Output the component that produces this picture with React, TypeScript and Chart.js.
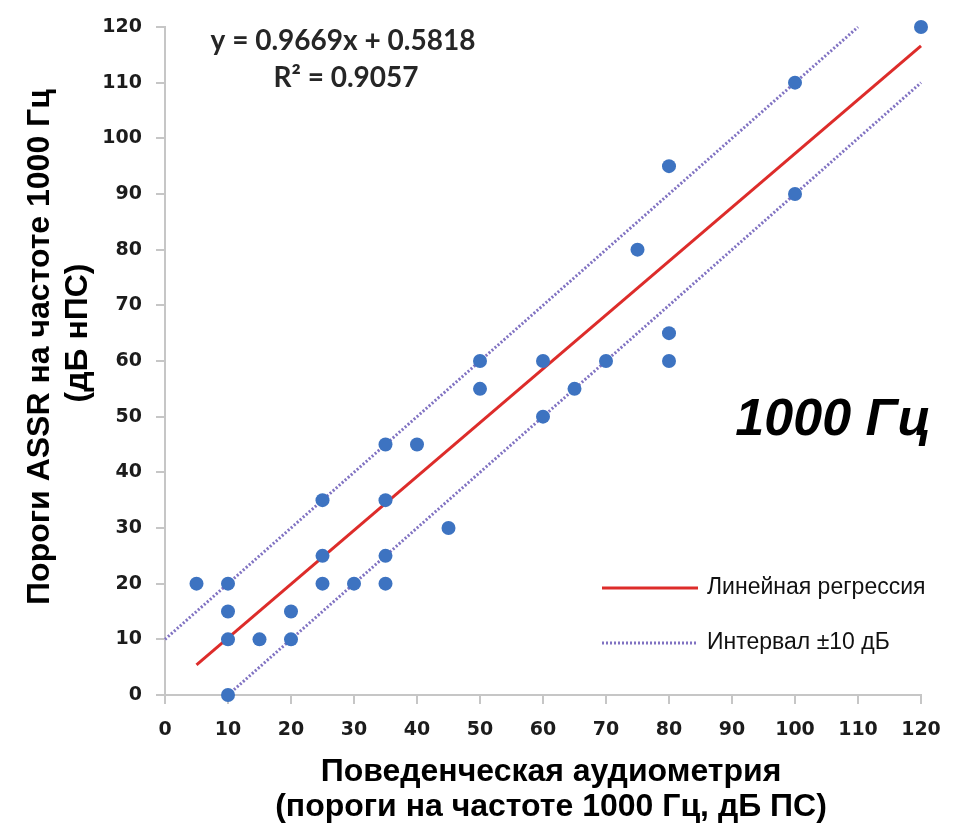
import { useEffect, useRef } from "react";
import { Chart, registerables } from "chart.js";

Chart.register(...registerables);

// Behavioral audiometry thresholds (dB HL) and matching ASSR thresholds at 1000 Hz (dB nHL)
const behavioralDb = [5, 10, 10, 10, 10, 15, 20, 20, 25, 25, 25, 30, 35, 35, 35, 35, 40, 45, 50, 50, 60, 60, 65, 70, 75, 80, 80, 80, 100, 100, 120];
const assrDb = [20, 20, 15, 10, 0, 10, 15, 10, 35, 25, 20, 20, 45, 35, 25, 20, 45, 30, 60, 55, 60, 50, 55, 60, 80, 95, 65, 60, 110, 90, 120];

// Linear regression fit and its x extent
const regressionSlope = 0.9669;
const regressionIntercept = 0.5818;
const regressionRange = [5, 120];

// ±10 dB band around the identity line
const intervalHalfWidth = 10;
const upperIntervalRange = [0, 110];
const lowerIntervalRange = [10, 120];

// Axis ticks
const axisMin = 0;
const axisMax = 120;
const axisStep = 10;

const equationLines = ["y = 0.9669x + 0.5818", "R² = 0.9057"];
const legendLabels = ["Линейная регрессия", "Интервал ±10 дБ"];
const xTitleLines = ["Поведенческая аудиометрия", "(пороги на частоте 1000 Гц, дБ ПС)"];
const yTitleLines = ["Пороги ASSR на частоте 1000 Гц", "(дБ нПС)"];
const panelLabel = "1000 Гц";

const W = 960;
const H = 824;
const AREA_LEFT = 165;
const AREA_RIGHT = 921;
const AREA_TOP = 27;
const AREA_BOTTOM = 695;

const POINT_COLOR = "#3d73c1";
const REG_COLOR = "#dd2c2a";
const BAND_COLOR = "#8072c2";
const AXIS_COLOR = "#c6c6c6";

const TITLE_FONT = '"Liberation Sans", Arial, sans-serif';

const overlayPlugin = {
  id: "overlayText",
  afterDraw(chart: any) {
    const ctx: CanvasRenderingContext2D = chart.ctx;
    ctx.save();

    // regression equation
    ctx.fillStyle = "#262626";
    ctx.textAlign = "center";
    ctx.textBaseline = "middle";
    ctx.font = 'bold 28px Lato, "Open Sans", sans-serif';
    ctx.fillText(equationLines[0], 343, 41);
    ctx.fillText(equationLines[1], 346, 78);

    // legend
    const sampleX0 = 602;
    const sampleX1 = 698;
    const rowY = [588, 643];
    ctx.lineWidth = 3;
    ctx.strokeStyle = REG_COLOR;
    ctx.setLineDash([]);
    ctx.beginPath();
    ctx.moveTo(sampleX0, rowY[0]);
    ctx.lineTo(sampleX1, rowY[0]);
    ctx.stroke();
    ctx.strokeStyle = BAND_COLOR;
    ctx.setLineDash([2, 2]);
    ctx.beginPath();
    ctx.moveTo(sampleX0, rowY[1]);
    ctx.lineTo(sampleX1, rowY[1]);
    ctx.stroke();
    ctx.setLineDash([]);
    ctx.fillStyle = "#111";
    ctx.textAlign = "left";
    ctx.font = `23px ${TITLE_FONT}`;
    ctx.fillText(legendLabels[0], 707, rowY[0]);
    ctx.fillText(legendLabels[1], 707, rowY[1]);

    // frequency label
    ctx.fillStyle = "#000";
    ctx.textAlign = "right";
    ctx.textBaseline = "alphabetic";
    ctx.font = `italic bold 52px ${TITLE_FONT}`;
    ctx.fillText(panelLabel, 931, 435);

    // x axis title
    ctx.textAlign = "center";
    ctx.font = `bold 32px ${TITLE_FONT}`;
    ctx.fillText(xTitleLines[0], 551, 781);
    ctx.fillText(xTitleLines[1], 551, 816);

    // y axis title
    ctx.textBaseline = "middle";
    ctx.save();
    ctx.translate(40, 347);
    ctx.rotate(-Math.PI / 2);
    ctx.fillText(yTitleLines[0], 0, 0);
    ctx.restore();
    ctx.save();
    ctx.translate(78, 333);
    ctx.rotate(-Math.PI / 2);
    ctx.fillText(yTitleLines[1], 0, 0);
    ctx.restore();

    ctx.restore();
  },
};

export default function App() {
  const canvasRef = useRef<HTMLCanvasElement | null>(null);

  useEffect(() => {
    const canvas = canvasRef.current;
    if (!canvas) return;

    const points = behavioralDb.map((x, i) => ({ x, y: assrDb[i] }));
    const regression = regressionRange.map((x) => ({ x, y: regressionSlope * x + regressionIntercept }));
    const upper = upperIntervalRange.map((x) => ({ x, y: x + intervalHalfWidth }));
    const lower = lowerIntervalRange.map((x) => ({ x, y: x - intervalHalfWidth }));

    const tickFont = { family: '"DejaVu Sans", Verdana, sans-serif', weight: "bold" as const, size: 19 };
    const axisCommon = {
      type: "linear" as const,
      min: axisMin,
      max: axisMax,
      grid: {
        display: true,
        drawOnChartArea: false,
        drawTicks: true,
        tickLength: 9,
        color: AXIS_COLOR,
        lineWidth: 2,
      },
      border: { display: true, color: AXIS_COLOR, width: 2 },
    };

    const chart = new Chart(canvas, {
      type: "scatter",
      data: {
        datasets: [
          {
            label: "ASSR",
            data: points,
            backgroundColor: POINT_COLOR,
            borderWidth: 0,
            pointRadius: 7,
            pointHoverRadius: 7,
            clip: false,
          },
          {
            type: "line",
            label: legendLabels[0],
            data: regression,
            borderColor: REG_COLOR,
            borderWidth: 3,
            pointRadius: 0,
            fill: false,
            clip: false,
          },
          {
            type: "line",
            label: legendLabels[1],
            data: upper,
            borderColor: BAND_COLOR,
            borderWidth: 3,
            borderDash: [2, 2],
            pointRadius: 0,
            fill: false,
            clip: false,
          },
          {
            type: "line",
            label: legendLabels[1],
            data: lower,
            borderColor: BAND_COLOR,
            borderWidth: 3,
            borderDash: [2, 2],
            pointRadius: 0,
            fill: false,
            clip: false,
          },
        ],
      },
      options: {
        responsive: false,
        animation: false,
        devicePixelRatio: 1,
        layout: {
          padding: { top: AREA_TOP, right: W - AREA_RIGHT, left: 0, bottom: 0 },
        },
        plugins: {
          legend: { display: false },
          tooltip: { enabled: false },
          title: { display: false },
        },
        scales: {
          x: {
            ...axisCommon,
            position: "bottom",
            ticks: { stepSize: axisStep, font: tickFont, color: "#1c1c1c", padding: 15, maxRotation: 0, autoSkip: false },
            afterFit: (scale: any) => {
              scale.height = H - AREA_BOTTOM;
            },
          },
          y: {
            ...axisCommon,
            position: "left",
            ticks: { stepSize: axisStep, font: tickFont, color: "#1c1c1c", padding: 14, autoSkip: false },
            afterFit: (scale: any) => {
              scale.width = AREA_LEFT;
            },
          },
        },
      },
      plugins: [overlayPlugin],
    });

    return () => chart.destroy();
  }, []);

  return (
    <div style={{ position: "absolute", left: 0, top: 0, width: W, height: H, background: "#fff" }}>
      <canvas ref={canvasRef} width={W} height={H} style={{ display: "block" }} />
    </div>
  );
}
